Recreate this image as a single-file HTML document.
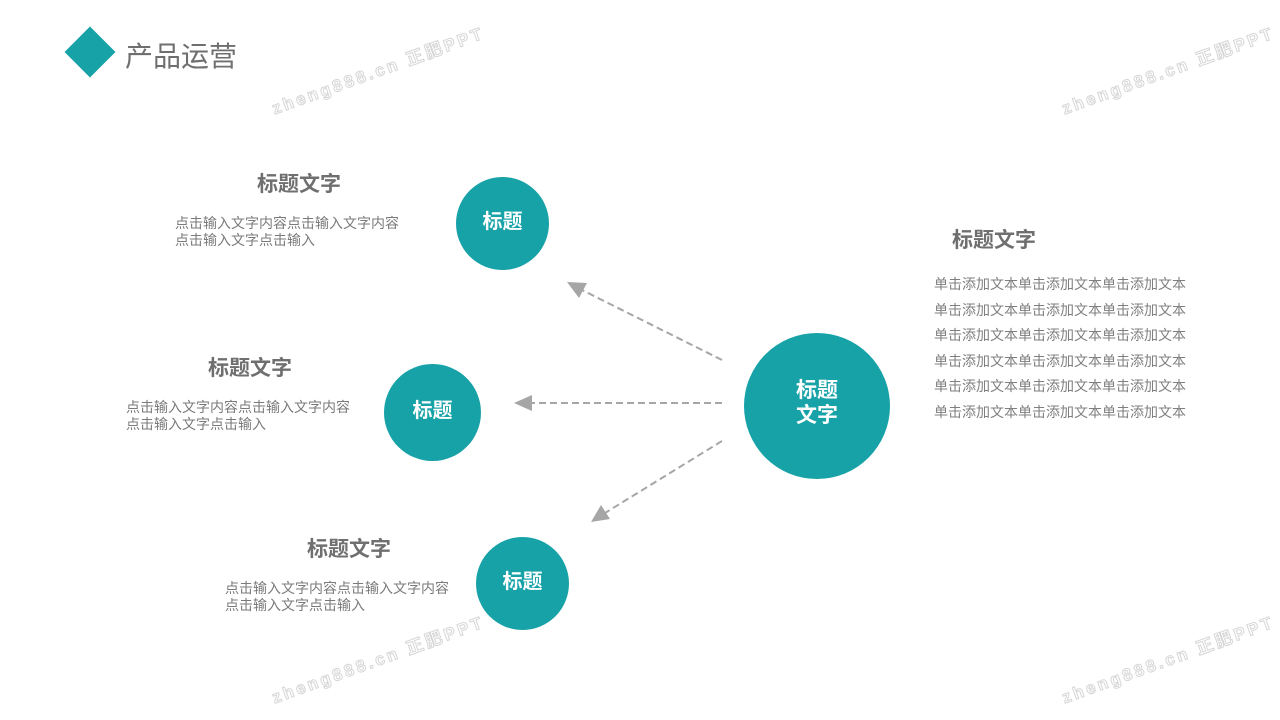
<!DOCTYPE html>
<html><head><meta charset="utf-8"><style>
body{margin:0;width:1280px;height:720px;background:#fff;position:relative;overflow:hidden;font-family:"Liberation Sans","Noto Sans CJK SC",sans-serif}
.a{position:absolute;white-space:nowrap}
.t{font-size:21px;font-weight:bold;color:#6f6f6f}
.s{font-size:14px;color:#7a7a7a;line-height:17px}
.r{font-size:14px;color:#7f7f7f;line-height:25.6px}
.c{position:absolute;border-radius:50%;background:#17a2a8;color:#fff;font-weight:bold;display:flex;align-items:center;justify-content:center;text-align:center;box-sizing:border-box;padding-bottom:8px}
.w{position:absolute;font-size:17px;font-weight:bold;letter-spacing:3px;transform:rotate(-20deg);transform-origin:left center;white-space:nowrap;-webkit-text-stroke:1px #d6d6d6;color:#fff}
</style></head><body>
<div style="position:absolute;left:72px;top:34px;width:36px;height:36px;background:#17a2a8;transform:rotate(45deg)"></div>
<div class="a" style="left:125px;top:39px;font-size:28px;color:#6f6f6f;line-height:36px">产品运营</div>

<div class="w" style="left:272px;top:95px">zheng888.cn 正肥PPT</div>
<div class="w" style="left:1062px;top:95px">zheng888.cn 正肥PPT</div>
<div class="w" style="left:272px;top:684px">zheng888.cn 正肥PPT</div>
<div class="w" style="left:1062px;top:684px">zheng888.cn 正肥PPT</div>

<svg style="position:absolute;left:0;top:0" width="1280" height="720">
<g stroke="#a6a6a6" stroke-width="2" stroke-dasharray="7,4" fill="none">
<line x1="722" y1="360" x2="582" y2="290"/>
<line x1="722" y1="403" x2="530" y2="403"/>
<line x1="722" y1="441" x2="605" y2="513"/>
</g>
<g fill="#a6a6a6">
<polygon points="567,282 587,283 579,298"/>
<polygon points="514,403 532,395 532,411"/>
<polygon points="591,522 601,505 610,519"/>
</g>
</svg>

<div class="c" style="left:456px;top:177px;width:93px;height:93px;font-size:20px">标题</div>
<div class="c" style="left:384px;top:364px;width:97px;height:97px;font-size:20px">标题</div>
<div class="c" style="left:476px;top:537px;width:93px;height:93px;font-size:20px">标题</div>
<div class="c" style="left:744px;top:333px;width:146px;height:146px;font-size:21px;line-height:25px;padding-bottom:6px">标题<br>文字</div>

<div class="a t" style="left:257px;top:168px">标题文字</div>
<div class="a s" style="left:175px;top:215px">点击输入文字内容点击输入文字内容<br>点击输入文字点击输入</div>
<div class="a t" style="left:208px;top:352px">标题文字</div>
<div class="a s" style="left:126px;top:399px">点击输入文字内容点击输入文字内容<br>点击输入文字点击输入</div>
<div class="a t" style="left:307px;top:533px">标题文字</div>
<div class="a s" style="left:225px;top:580px">点击输入文字内容点击输入文字内容<br>点击输入文字点击输入</div>

<div class="a t" style="left:952px;top:224px">标题文字</div>
<div class="a r" style="left:934px;top:272px">单击添加文本单击添加文本单击添加文本<br>单击添加文本单击添加文本单击添加文本<br>单击添加文本单击添加文本单击添加文本<br>单击添加文本单击添加文本单击添加文本<br>单击添加文本单击添加文本单击添加文本<br>单击添加文本单击添加文本单击添加文本</div>
</body></html>
